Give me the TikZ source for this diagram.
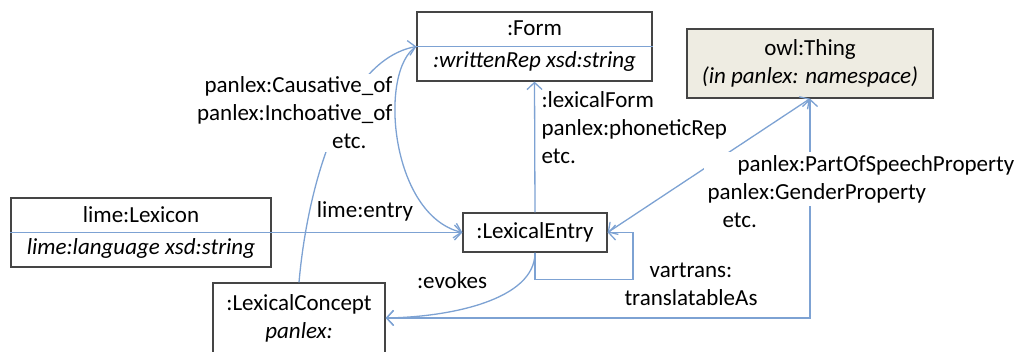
\documentclass[tikz,border=0pt]{standalone}
\usepackage{fontspec}
\setmainfont{Carlito}
\usepackage{xcolor}
\usepackage{tikz}
\usetikzlibrary{arrows.meta}

\definecolor{linkblue}{HTML}{7DA2D3}
\definecolor{boxgray}{HTML}{454545}
\definecolor{thingfill}{HTML}{EEECE2}

\tikzset{
    classbox/.style={draw=boxgray, line width=1.3pt, align=center, inner sep=0pt},
    rel/.style={draw=linkblue, line width=1.3pt},
    lbl/.style={font=\fontsize{23}{28}\selectfont}
}

\begin{document}
\begin{tikzpicture}[x=1pt, y=-1pt, >={Straight Barb[length=7pt,width=15pt]}, every node/.style={lbl}]
    \useasboundingbox (0,0) rectangle (1025,351);
    \clip (0,0) rectangle (1025,351);

    % Draw the classes
    \node[classbox, minimum width=235pt, minimum height=69pt] (form) at (534.5,46.5) {:Form\\[4pt]\textit{:writtenRep xsd:string}};
    \node[classbox, fill=thingfill, minimum width=246pt, minimum height=69pt] (thing) at (810,63.5) {owl:Thing\\\textit{(in panlex: namespace)}};
    \node[classbox, minimum width=260pt, minimum height=69pt] (lexicon) at (141,232.5) {lime:Lexicon\\[4pt]\textit{lime:language xsd:string}};
    \node[classbox, minimum width=144pt, minimum height=39pt] (entry) at (535,232.5) {:LexicalEntry};
    \node[classbox, minimum width=172pt, minimum height=70pt] (concept) at (299,318) {:LexicalConcept\\\textit{panlex:}};

    \draw[rel] (form.west) -- (form.east);

    % Connectors with their labels
    \draw[rel, ->] (lexicon.west) -- (entry.west);
    \node (entrylbl) at (365,211) {lime:entry};

    \draw[rel, ->] (entry.north) -- (form.south);
    \node[anchor=west, align=left] (formlbl) at (538,128) {:lexicalForm\\panlex:phoneticRep\\etc.};

    \draw[rel, <->] (entry.east) -- (thing.south);

    \draw[rel, <->] (concept.east) -- (thing.south |- concept.east) -- (thing.south);
    \node[anchor=west, align=left, fill=white] (poslbl) at (704,179) {\hspace*{30pt}panlex:PartOfSpeechProperty\\panlex:GenderProperty};
    \node[anchor=west] (posetc) at (719,220) {etc.};

    \draw[rel, ->] (entry.south) .. controls (535,300) and (450,317) .. (concept.east);
    \node (evokeslbl) at (452,281) {:evokes};

    \draw[rel, ->] (entry.south) -- ++(0,27) -- ++(98,0) |- (entry.east);
    \node[align=center] (looplbl) at (691,284.5) {vartrans:\\translatableAs};

    \draw[rel, ->] (concept.north) .. controls (308,180) and (345,60) .. (form.west);
    \node[anchor=east, align=right, fill=white] (causlbl) at (396,113) {panlex:Causative\_of\\panlex:Inchoative\_of\hspace*{4pt}\\etc.\hspace*{26pt}};
    \draw[rel, ->] (form.west) .. controls (378,70) and (390,215) .. (entry.west);
\end{tikzpicture}
\end{document}
